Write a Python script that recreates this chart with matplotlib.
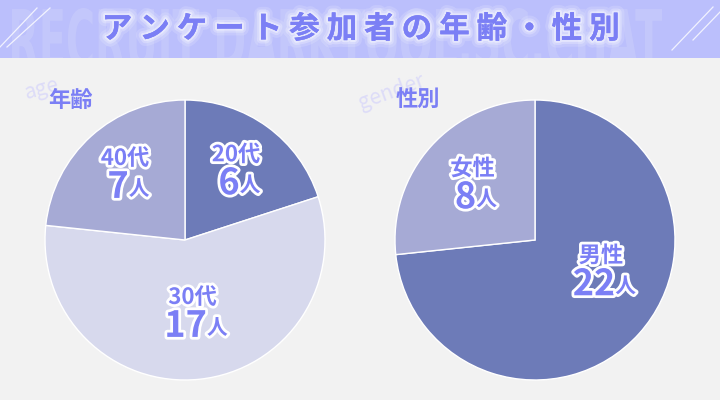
import matplotlib
matplotlib.use("Agg")
import matplotlib.pyplot as plt
import matplotlib.patheffects as pe
from matplotlib.textpath import TextPath
from matplotlib.patches import PathPatch
from matplotlib.font_manager import FontProperties
from matplotlib.transforms import Affine2D
import numpy as np

plt.rcParams['font.family'] = ['Noto Sans CJK JP', 'DejaVu Sans']

# data
title = "アンケート参加者の年齢・性別"
age_labels = ["20代", "30代", "40代"]
age_counts = [6, 17, 7]
gender_labels = ["男性", "女性"]
gender_counts = [22, 8]

# colours
bg = '#f2f2f2'
head_bg = '#bbbffc'
txt_col = '#7b7ff5'
age_colors = ['#6d7bb8', '#d7d9ed', '#a6aad5']
gender_colors = ['#6d7bb8', '#a6aad5']

fig = plt.figure(figsize=(7.2, 4.0), dpi=100, facecolor=bg)
ax = fig.add_axes([0, 0, 1, 1])
ax.set_xlim(0, 720)
ax.set_ylim(0, 400)
ax.axis('off')

# header band
hax = fig.add_axes([0, 342 / 400, 1, 58 / 400])
hax.set_xlim(0, 720)
hax.set_ylim(58, 0)
hax.set_facecolor(head_bg)
for s in hax.spines.values():
    s.set_visible(False)
hax.set_xticks([])
hax.set_yticks([])

# faint condensed watermark behind the title
tp = TextPath((0, 0), "RECRUIT DARKTOOL.SC.CHAT", size=10,
              prop=FontProperties(family='DejaVu Sans', weight='bold'))
ext = tp.get_extents()
sx = 650 / ext.width
sy = 62 / ext.height
tr = Affine2D().translate(-ext.x0, -ext.y0).scale(sx, -sy).translate(12, 70)
wm = PathPatch(tr.transform_path(tp), facecolor='#cacdfb', edgecolor='none', alpha=0.6)
hax.add_patch(wm)

for x0, y0, x1, y1 in [(0, 47, 37, 8), (7, 47, 50, 8), (672, 50, 713, 7), (693, 40, 720, 12)]:
    hax.plot([x0, x1], [y0, y1], color='white', lw=0.9, alpha=0.8)

glow = [pe.withStroke(linewidth=10, foreground='white', alpha=0.15),
        pe.withStroke(linewidth=6, foreground='white', alpha=0.25),
        pe.withStroke(linewidth=3, foreground='white', alpha=0.4),
        pe.Normal()]
hax.text(360, 29, " ".join(title), fontsize=22, fontweight='bold', color=txt_col,
         ha='center', va='center', path_effects=glow)

stroke = [pe.withStroke(linewidth=4, foreground='white')]


def draw_pie(cx, cy, values, labels, colors, dists, shifts):
    wedges, _ = ax.pie(values, colors=colors, startangle=90, counterclock=False,
                       center=(cx, 400 - cy), radius=140, frame=True,
                       wedgeprops=dict(edgecolor='white', linewidth=1))
    for w, lab, val, d, sh in zip(wedges, labels, values, dists, shifts):
        mid = np.deg2rad((w.theta1 + w.theta2) / 2 + sh)
        x = cx + 140 * d * np.cos(mid)
        y = 400 - cy + 140 * d * np.sin(mid)
        ax.text(x, y + 15, lab, fontsize=16, fontweight='bold', color=txt_col,
                ha='center', va='center', path_effects=stroke)
        t = ax.text(x - 7, y - 14, str(val), fontsize=26, fontweight='bold',
                    color=txt_col, ha='center', va='center', path_effects=stroke)
        ax.annotate("人", xy=(1, 0.18), xycoords=t, fontsize=15, fontweight='bold',
                    color=txt_col, ha='left', va='bottom', path_effects=stroke)


draw_pie(185, 240, age_counts, age_labels, age_colors, [0.62, 0.52, 0.64], [0, 0, 0])
draw_pie(535, 240, gender_counts, gender_labels, gender_colors, [0.52, 0.6], [17, 0])

ax.set_xlim(0, 720)
ax.set_ylim(0, 400)
ax.set_aspect('auto')
ax.axis('off')

# section headings
ax.text(42, 400 - 89, "age", fontsize=15, style='italic', color='#dddcf8',
        rotation=15, ha='center', va='center')
ax.text(70, 400 - 100, "年齢", fontsize=16, fontweight='bold', color=txt_col,
        ha='center', va='center')
ax.text(392, 400 - 92, "gender", fontsize=15, style='italic', color='#dddcf8',
        rotation=20, ha='center', va='center')
ax.text(418, 400 - 99, "性別", fontsize=16, fontweight='bold', color=txt_col,
        ha='center', va='center')

fig.savefig("out.png", dpi=100, facecolor=bg)
